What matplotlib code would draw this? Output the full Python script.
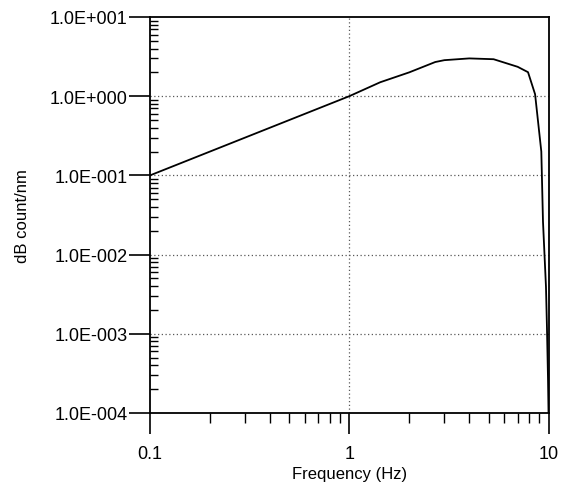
import matplotlib
matplotlib.use("Agg")
import matplotlib.pyplot as plt
from matplotlib.ticker import LogLocator, FixedLocator, NullFormatter

plt.rcParams['font.family'] = ['Liberation Sans', 'DejaVu Sans']

# response curve
freq_hz = [0.1, 1.0, 1.43, 2.0, 2.7, 3.0, 4.0, 5.3, 7.0, 7.89, 8.56, 9.2, 9.38, 9.71, 9.82, 9.94, 10.0]
counts = [0.1, 1.0, 1.5, 2.0, 2.7, 2.85, 3.0, 2.93, 2.35, 2.01, 1.06, 0.2, 0.026, 0.0039, 0.0012, 0.00027, 0.0001]

x_ticks = [0.1, 1, 10]
x_labels = ["0.1", "1", "10"]
y_ticks = [1e-4, 1e-3, 1e-2, 1e-1, 1e0, 1e1]
y_labels = ["1.0E-004", "1.0E-003", "1.0E-002", "1.0E-001", "1.0E+000", "1.0E+001"]

fig = plt.figure(figsize=(5.63, 4.89), dpi=100)
ax = fig.add_axes([0.2664, 0.1534, 0.7079, 0.8098])

ax.plot(freq_hz, counts, color='black', linewidth=1.3, zorder=3)

ax.set_xscale('log')
ax.set_yscale('log')
ax.set_xlim(0.1, 10)
ax.set_ylim(1e-4, 1e1)

ax.xaxis.set_major_locator(FixedLocator(x_ticks))
ax.set_xticklabels(x_labels)
ax.yaxis.set_major_locator(FixedLocator(y_ticks))
ax.set_yticklabels(y_labels)
ax.xaxis.set_minor_locator(LogLocator(base=10, subs=range(2, 10)))
ax.yaxis.set_minor_locator(LogLocator(base=10, subs=range(2, 10)))
ax.xaxis.set_minor_formatter(NullFormatter())
ax.yaxis.set_minor_formatter(NullFormatter())

ax.tick_params(axis='both', which='major', direction='out', length=15, width=1.2,
               labelsize=13, color='black')
ax.tick_params(axis='x', which='major', pad=8)
ax.tick_params(axis='y', which='major', pad=1)
ax.tick_params(axis='x', which='minor', direction='out', length=7, width=1.0)
ax.tick_params(axis='y', which='minor', direction='in', length=6, width=1.0)

# dotted grid at interior major ticks
for yv in [1e-3, 1e-2, 1e-1, 1e0]:
    ax.axhline(yv, color='0.35', linestyle=(0, (1, 2)), linewidth=0.9, zorder=1)
ax.axvline(1, color='0.35', linestyle=(0, (1, 2)), linewidth=0.9, zorder=1)

for s in ax.spines.values():
    s.set_linewidth(1.3)

ax.set_xlabel("Frequency (Hz)", fontsize=12, labelpad=3)
ax.set_ylabel("dB count/nm", fontsize=12, labelpad=14)

fig.savefig("out.png", dpi=100)
